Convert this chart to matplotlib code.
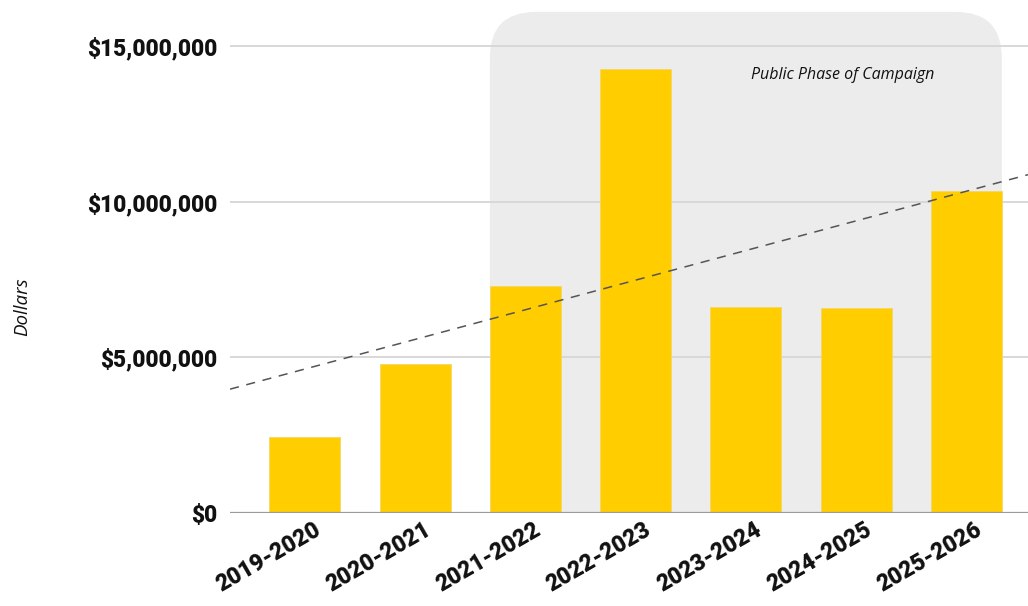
import numpy as np
import matplotlib
matplotlib.use("Agg")
import matplotlib.pyplot as plt
import matplotlib.transforms as mtransforms
from matplotlib.patches import FancyBboxPatch
from matplotlib.ticker import FuncFormatter

years = ["2019-2020", "2020-2021", "2021-2022", "2022-2023",
         "2023-2024", "2024-2025", "2025-2026"]
dollars = [2440000, 4790000, 7300000, 14280000, 6620000, 6590000, 10350000]
yticks = [0, 5000000, 10000000, 15000000]
campaign_start = 2   # first year of the public phase
campaign_end = 6
campaign_label = "Public Phase of Campaign"

W, H = 1028, 606
fig = plt.figure(figsize=(W / 100, H / 100), dpi=100)
ax = fig.add_axes([230 / W, (H - 513) / H, (W - 230) / W, (513 - 10) / H])

x = np.arange(len(years))
bar_w = 0.645
ax.set_xlim(-0.68, 6.56)
ax.set_ylim(0, 16160000)

# rounded grey panel behind the campaign years
fig.canvas.draw()
px_x = ax.transData.transform([(1, 0)])[0][0] - ax.transData.transform([(0, 0)])[0][0]
px_y = ax.transData.transform([(0, 1e6)])[0][1] - ax.transData.transform([(0, 0)])[0][1]
aspect = (1e6 / px_y) / (1 / px_x)
panel = FancyBboxPatch((campaign_start - bar_w / 2, -2e6),
                       (campaign_end - campaign_start) + bar_w, 18.1e6,
                       boxstyle="round,pad=0,rounding_size=0.42",
                       mutation_aspect=aspect,
                       facecolor="#ececec", edgecolor="none", zorder=0)
ax.add_patch(panel)

for t in yticks[1:]:
    ax.axhline(t, color="#d6d6d6", lw=1.3, zorder=1)
ax.axhline(0, color="#9a9a9a", lw=1.6, zorder=3)

ax.bar(x, dollars, width=bar_w, color="#ffcd00", edgecolor="#f3d867",
       lw=0.6, zorder=2)

# linear trend over the years
slope, intercept = np.polyfit(x, dollars, 1)
xs = np.array(ax.get_xlim())
ax.plot(xs, slope * xs + intercept, color="#555555", lw=1.1,
        dashes=(6, 5), zorder=4)

ax.text(4.05, 14.07e6, campaign_label, fontsize=11.5, style="italic",
        family="Open Sans", color="#111111", va="center", ha="left", zorder=5)

for s in ax.spines.values():
    s.set_visible(False)

ax.set_yticks(yticks)
ax.yaxis.set_major_formatter(FuncFormatter(lambda v, p: "${:,.0f}".format(v)))
ax.tick_params(axis="y", length=0, pad=9)
ax.tick_params(axis="x", length=0, pad=4)
for lab in ax.get_yticklabels():
    lab.set_fontfamily("Roboto")
    lab.set_fontweight("black")
    lab.set_fontsize(16.3)
    lab.set_color("#111111")

ax.set_xticks(x)
ax.set_xticklabels(years, rotation=30, ha="right", va="top",
                   rotation_mode="anchor", fontfamily="Roboto",
                   fontweight="black", fontsize=16.5, color="#111111")
shift = mtransforms.ScaledTranslation(8 / 100, 0, fig.dpi_scale_trans)
for lab in ax.get_xticklabels():
    lab.set_transform(lab.get_transform() + shift)

fig.text(22 / W, 1 - 307 / H, "Dollars", rotation=90, style="italic",
         family="Open Sans", fontsize=13.5, color="#111111",
         ha="center", va="center")

fig.savefig("out.png", dpi=100, facecolor="white")
